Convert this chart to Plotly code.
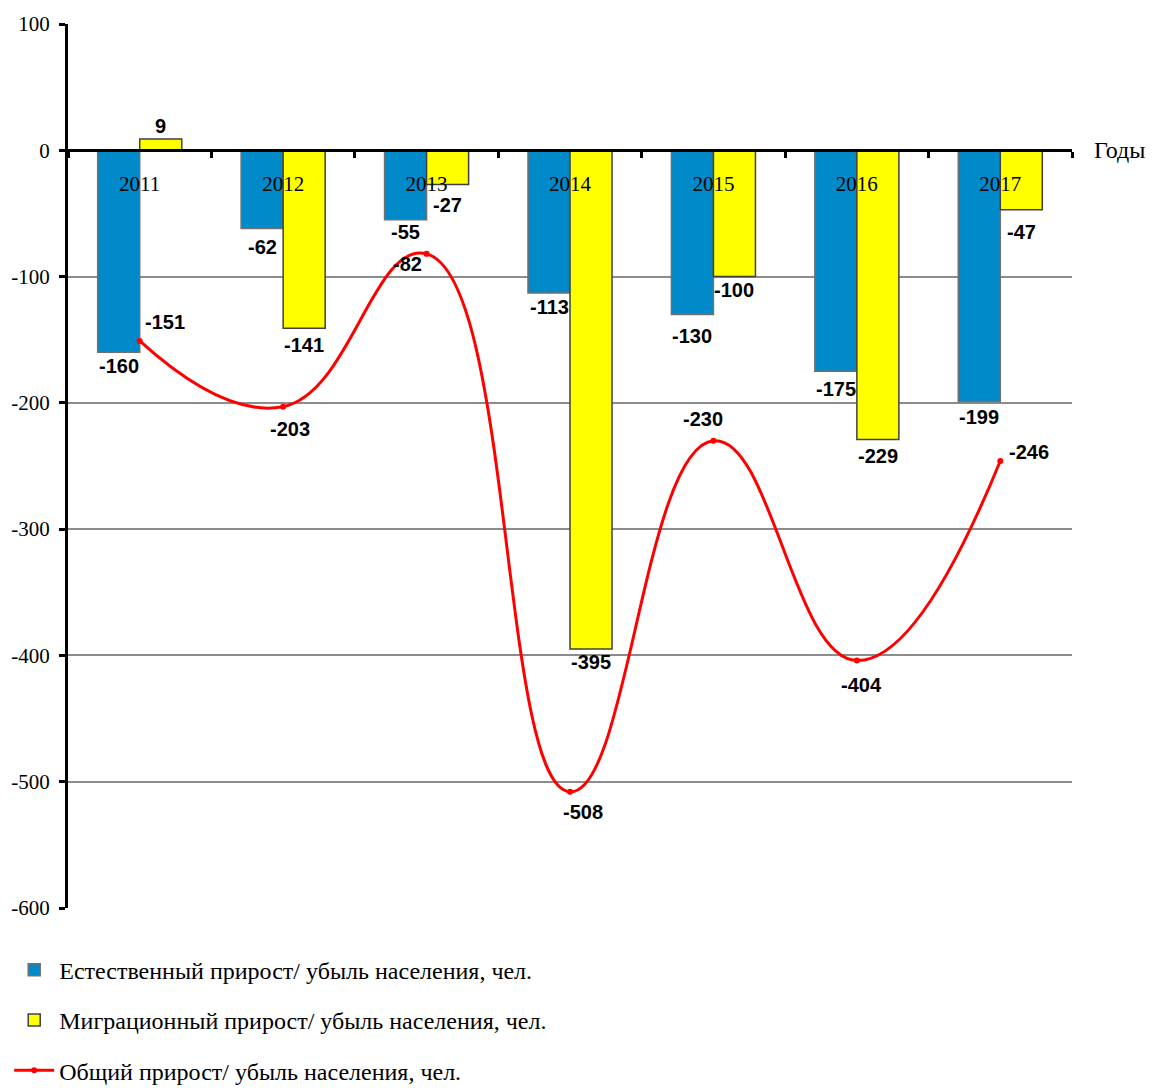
import plotly.graph_objects as go

years = ["2011", "2012", "2013", "2014", "2015", "2016", "2017"]
natural = [-160, -62, -55, -113, -130, -175, -199]
migration = [9, -141, -27, -395, -100, -229, -47]
total = [-151, -203, -82, -508, -230, -404, -246]
y_ticks = [100, 0, -100, -200, -300, -400, -500, -600]

name_nat = "Естественный прирост/ убыль населения, чел."
name_mig = "Миграционный прирост/ убыль населения, чел."
name_tot = "Общий прирост/ убыль населения, чел."

# label offsets in screen pixels (styling only)
nat_dy = [14, 18, 12, 14, 22, 18, 15]
mig_dy = [-13, 17, 21, 13, 13, 17, 22]
tot_dx = [25, 7, -19, 13, -10, 5, 29]
tot_dy = [-19, 22, 10, 20, -22, 25, -9]
bar_half = 21

serif = "Liberation Serif"
sans = "Liberation Sans"
lbl_font = dict(family=sans, size=20, color="black", weight="bold")

fig = go.Figure()
fig.add_trace(go.Bar(
    x=years, y=natural, name=name_nat, legendgroup="a",
    marker=dict(color="#008AC9", line=dict(color="#707070", width=1.5)),
))
fig.add_trace(go.Bar(
    x=years, y=migration, name=name_mig, legendgroup="b",
    marker=dict(color="#FFFF00", line=dict(color="#404040", width=1.5)),
))
fig.add_trace(go.Scatter(
    x=years, y=total, name=name_tot, legendgroup="c",
    mode="lines+markers",
    line=dict(color="#FF0000", width=3, shape="spline", smoothing=1.3),
    marker=dict(color="#FF0000", size=6),
    cliponaxis=False,
))

annotations = []
# on a category axis annotation x is the category index
for i, (v, dy) in enumerate(zip(natural, nat_dy)):
    annotations.append(dict(x=i, y=v, xref="x", yref="y", text=str(v), showarrow=False,
                            xshift=-bar_half, yshift=-dy, font=lbl_font))
for i, (v, dy) in enumerate(zip(migration, mig_dy)):
    annotations.append(dict(x=i, y=v, xref="x", yref="y", text=str(v), showarrow=False,
                            xshift=bar_half, yshift=-dy, font=lbl_font))
for i, (v, dx, dy) in enumerate(zip(total, tot_dx, tot_dy)):
    annotations.append(dict(x=i, y=v, xref="x", yref="y", text=str(v), showarrow=False,
                            xshift=dx, yshift=-dy, font=lbl_font))
annotations.append(dict(
    text="Годы", xref="paper", yref="y", x=1.0, y=0, xanchor="left",
    yanchor="middle", xshift=20, showarrow=False,
    font=dict(family=serif, size=24, color="black"),
))

zero_frac = 600 / 700

fig.update_layout(
    width=1152, height=1088,
    margin=dict(l=68, r=80, t=24, b=180, autoexpand=False),
    plot_bgcolor="white", paper_bgcolor="white",
    barmode="group", bargap=0.414, bargroupgap=0,
    showlegend=True,
    legend=dict(
        xref="container", yref="container", x=0.008, y=0.129,
        xanchor="left", yanchor="top", orientation="v",
        font=dict(family=serif, size=24, color="black"),
        tracegroupgap=16, itemwidth=40, bgcolor="rgba(0,0,0,0)",
    ),
    xaxis=dict(
        type="category", anchor="free", position=zero_frac,
        categoryorder="array", categoryarray=years,
        showline=True, linecolor="black", linewidth=3,
        ticks="outside", tickson="boundaries", ticklen=6, tickwidth=3, tickcolor="black",
        tickfont=dict(family=serif, size=21, color="black"),
        ticklabelstandoff=14,
        showgrid=False, layer="above traces",
    ),
    yaxis=dict(
        range=[-600, 100],
        tickvals=y_ticks, ticktext=[str(v) for v in y_ticks],
        showline=True, linecolor="black", linewidth=3,
        ticks="outside", ticklen=6, tickwidth=3, tickcolor="black",
        tickfont=dict(family=serif, size=21, color="black"),
        ticklabelstandoff=5,
        showgrid=True, gridcolor="#8C8C8C", gridwidth=1.5,
        zeroline=False,
    ),
    annotations=annotations,
)

fig.write_html("out.html")
